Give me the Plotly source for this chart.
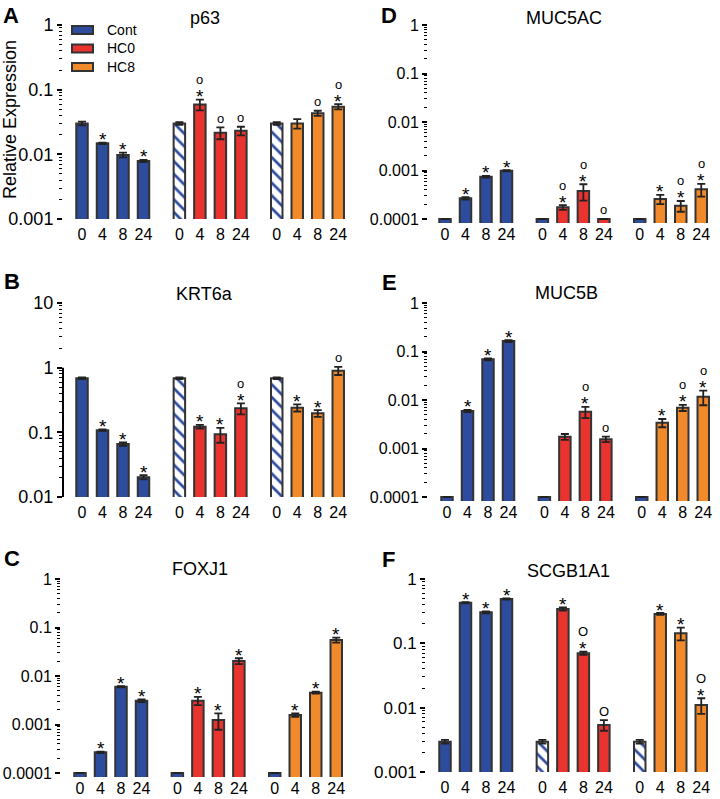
import math
import plotly.graph_objects as go

# ---------------- data ----------------
TIMES = ["0", "4", "8", "24"]
GROUPS = ["Cont", "HC0", "HC8"]
GENES = ["p63", "KRT6a", "FOXJ1", "MUC5AC", "MUC5B", "SCGB1A1"]
LETTERS = ["A", "B", "C", "D", "E", "F"]
ND = 1e-4  # below detection: drawn as a stub under the axis

# p63
p63_cont = [0.030, 0.0148, 0.0098, 0.0079]
p63_hc0 = [0.030, 0.059, 0.0216, 0.0232]
p63_hc8 = [0.030, 0.030, 0.0432, 0.0546]
p63_cont_err = [0.002, 0.0004, 0.0008, 0.0003]
p63_hc0_err = [0.0015, 0.011, 0.0045, 0.0035]
p63_hc8_err = [0.0015, 0.005, 0.004, 0.005]
p63_sig = [["", "*", "*", "*"], ["", "o*", "o", "o"], ["", "", "o", "o*"]]

# KRT6a
krt_cont = [0.684, 0.108, 0.066, 0.0202]
krt_hc0 = [0.684, 0.122, 0.093, 0.235]
krt_hc8 = [0.684, 0.24, 0.197, 0.90]
krt_cont_err = [0.02, 0.003, 0.004, 0.0015]
krt_hc0_err = [0.02, 0.008, 0.024, 0.045]
krt_hc8_err = [0.02, 0.03, 0.024, 0.13]
krt_sig = [["", "*", "*", "*"], ["", "*", "*", "o*"], ["", "*", "*", "o"]]

# FOXJ1
fox_cont = [ND, 0.000267, 0.0060, 0.0031]
fox_hc0 = [ND, 0.0031, 0.00124, 0.0204]
fox_hc8 = [ND, 0.00157, 0.00453, 0.0552]
fox_cont_err = [0, 0.00001, 0.0002, 0.0002]
fox_hc0_err = [0, 0.0006, 0.00046, 0.0028]
fox_hc8_err = [0, 0.00013, 0.0002, 0.0065]
fox_sig = [["", "*", "*", "*"], ["", "*", "*", "*"], ["", "*", "*", "*"]]

# MUC5AC
m5ac_cont = [ND, 0.000267, 0.000745, 0.00099]
m5ac_hc0 = [ND, 0.000174, 0.00038, ND]
m5ac_hc8 = [ND, 0.000258, 0.000188, 0.00041]
m5ac_cont_err = [0, 0.000015, 0.00003, 0.00003]
m5ac_hc0_err = [0, 0.00002, 0.00014, 0]
m5ac_hc8_err = [0, 0.000055, 0.000047, 0.00012]
m5ac_sig = [["", "*", "*", "*"], ["", "o*", "o*", "o"], ["", "*", "o*", "o*"]]

# MUC5B
m5b_cont = [ND, 0.00593, 0.069, 0.164]
m5b_hc0 = [ND, 0.00175, 0.00574, 0.00155]
m5b_hc8 = [ND, 0.0034, 0.00693, 0.0117]
m5b_cont_err = [0, 0.0003, 0.003, 0.008]
m5b_hc0_err = [0, 0.00024, 0.0015, 0.0002]
m5b_hc8_err = [0, 0.00066, 0.001, 0.0039]
m5b_sig = [["", "*", "*", "*"], ["", "", "o*", "o"], ["", "*", "o*", "o*"]]

# SCGB1A1
scgb_cont = [0.00296, 0.428, 0.303, 0.489]
scgb_hc0 = [0.00296, 0.342, 0.070, 0.00538]
scgb_hc8 = [0.00296, 0.286, 0.143, 0.0110]
scgb_cont_err = [0.0002, 0.01, 0.01, 0.01]
scgb_hc0_err = [0.0002, 0.02, 0.004, 0.001]
scgb_hc8_err = [0.0002, 0.01, 0.032, 0.003]
scgb_sig = [["", "*", "*", "*"], ["", "*", "o*", "o"], ["", "*", "*", "o*"]]

# axis limits (tick values)
Y_MIN = [1e-3, 1e-2, 1e-4, 1e-4, 1e-4, 1e-3]
Y_MAX = [1, 10, 1, 1, 1, 1]

VALUES = [
    [p63_cont, p63_hc0, p63_hc8],
    [krt_cont, krt_hc0, krt_hc8],
    [fox_cont, fox_hc0, fox_hc8],
    [m5ac_cont, m5ac_hc0, m5ac_hc8],
    [m5b_cont, m5b_hc0, m5b_hc8],
    [scgb_cont, scgb_hc0, scgb_hc8],
]
ERRORS = [
    [p63_cont_err, p63_hc0_err, p63_hc8_err],
    [krt_cont_err, krt_hc0_err, krt_hc8_err],
    [fox_cont_err, fox_hc0_err, fox_hc8_err],
    [m5ac_cont_err, m5ac_hc0_err, m5ac_hc8_err],
    [m5b_cont_err, m5b_hc0_err, m5b_hc8_err],
    [scgb_cont_err, scgb_hc0_err, scgb_hc8_err],
]
SIGS = [p63_sig, krt_sig, fox_sig, m5ac_sig, m5b_sig, scgb_sig]

# ---------------- styles / layout ----------------
W, H = 720, 799
BLUE = "#2E4C9E"
RED = "#E8332F"
ORANGE = "#F08A2B"
EDGE = "#333333"
GROUP_COLORS = [BLUE, RED, ORANGE]
FONT = "Liberation Sans, Arial, sans-serif"
GROUP_STEP = 4.75
PX_PER_UNIT = 20.5
STUB_PX = 4

# panel pixel boxes: left, right, top, bottom, first-bar centre
BOXES = [
    (63, 347, 25, 219, 82),
    (63, 347, 303, 497, 82),
    (61, 354, 579, 773, 80),
    (428, 718, 25, 219, 445),
    (428, 720, 303, 497, 447),
    (426, 720, 579, 772, 445),
]
YTICK_SIZE = [18, 18, 16, 16, 16, 17]
TITLE_POS = [(205, 18), (204, 294), (200, 569), (564, 18), (566, 293), (568, 571)]
LETTER_POS = [(11, 15), (12, 281), (12, 558), (389, 15), (389, 282), (388, 559)]

fig = go.Figure()
shapes = []
annotations = []

for p in range(6):
    L, R, T, B, first = BOXES[p]
    ax = "" if p == 0 else str(p + 1)
    xref, yref = "x" + ax, "y" + ax
    ymin, ymax = Y_MIN[p], Y_MAX[p]
    has_stub = any(v <= ymin for grp in VALUES[p] for v in grp)
    decades = math.log10(ymax) - math.log10(ymin)
    px_dec = (B - T) / decades
    ext = STUB_PX / px_dec if has_stub else 0.0
    Bp = B + (STUB_PX if has_stub else 0)

    xs_all = []
    for g in range(3):
        xs = [g * GROUP_STEP + i for i in range(4)]
        xs_all += xs
        vals = VALUES[p][g]
        errs = ERRORS[p][g]
        if g == 0:
            colors = [BLUE] * 4
            pats = [""] * 4
        else:
            colors = [BLUE] + [GROUP_COLORS[g]] * 3
            pats = ["\\", "", "", ""]
        # below-detection stubs: plain dark fill, no hatch
        pats = ["" if vals[i] <= ymin else pats[i] for i in range(4)]
        fig.add_trace(go.Bar(
            x=xs, y=vals, width=0.56,
            marker=dict(color=colors, line=dict(color=EDGE, width=2),
                        pattern=dict(shape=pats, fgcolor="white", size=9, solidity=0.3)),
            error_y=dict(type="data", array=[e if e > 0 else None for e in errs],
                         color="#222222", thickness=1.8, width=4, visible=True),
            xaxis=xref, yaxis=yref, showlegend=False, name=GROUPS[g],
        ))
        # significance marks
        for i in range(4):
            s = SIGS[p][g][i]
            if not s:
                continue
            top = vals[i] + errs[i]
            if vals[i] <= ymin:
                top = ymin
            stack = []
            if "*" in s:
                stack.append("*")
            if "o" in s:
                stack.append("O" if p == 5 else "o")
            for k, sym in enumerate(stack):
                annotations.append(dict(
                    x=xs[i], y=math.log10(top), xref=xref, yref=yref,
                    text=sym, showarrow=False,
                    yshift=(3 if sym == "*" else 9) + 11 * k,
                    yanchor="middle", xanchor="center",
                    font=dict(family=FONT, size=19 if sym == "*" else 13, color="black"),
                ))

    xlo = (L - first) / PX_PER_UNIT
    xhi = (R - first) / PX_PER_UNIT
    majors = [10 ** e for e in range(int(round(math.log10(ymin))), int(round(math.log10(ymax))) + 1)]
    minors = [m * v for v in majors[:-1] for m in range(2, 10)]

    fig.update_layout(**{
        ("xaxis" + ax): dict(
            domain=[L / W, R / W], range=[xlo, xhi], anchor=yref,
            tickvals=xs_all, ticktext=TIMES * 3, ticks="", showline=False,
            showgrid=False, zeroline=False, automargin=False,
            ticklabelstandoff=(0 if has_stub else 4),
            tickfont=dict(family=FONT, size=16, color="black"),
        ),
        ("yaxis" + ax): dict(
            domain=[1 - Bp / H, 1 - T / H], type="log",
            range=[math.log10(ymin) - ext, math.log10(ymax)], anchor=xref,
            tickvals=majors, ticktext=[f"{v:g}" for v in majors],
            ticks="outside", ticklen=5, tickwidth=1.5, tickcolor="black",
            minor=dict(tickvals=minors, ticks="outside", ticklen=3, tickwidth=1, tickcolor="black"),
            showline=False, showgrid=False, zeroline=False, automargin=False,
            tickfont=dict(family=FONT, size=YTICK_SIZE[p], color="black"),
        ),
    })
    # axis lines
    shapes.append(dict(type="line", xref=xref + " domain", yref=yref,
                       x0=0, x1=1, y0=math.log10(ymin), y1=math.log10(ymin),
                       line=dict(color="black", width=2), layer="above"))
    shapes.append(dict(type="line", xref=xref + " domain", yref=yref,
                       x0=0, x1=0, y0=math.log10(ymin), y1=math.log10(ymax),
                       line=dict(color="black", width=2), layer="above"))

    tx, ty = TITLE_POS[p]
    annotations.append(dict(x=tx / W, y=1 - ty / H, xref="paper", yref="paper",
                            text=GENES[p], showarrow=False, xanchor="center", yanchor="middle",
                            font=dict(family=FONT, size=18, color="black")))
    lx, ly = LETTER_POS[p]
    annotations.append(dict(x=lx / W, y=1 - ly / H, xref="paper", yref="paper",
                            text="<b>" + LETTERS[p] + "</b>", showarrow=False,
                            xanchor="center", yanchor="middle",
                            font=dict(family=FONT, size=22, color="black")))

# y axis title (panel A)
annotations.append(dict(x=10 / W, y=1 - 120 / H, xref="paper", yref="paper",
                        text="Relative Expression", textangle=-90, showarrow=False,
                        xanchor="center", yanchor="middle",
                        font=dict(family=FONT, size=18, color="black")))

# legend (panel A)
for g in range(3):
    yc = 30 + 18.5 * g
    shapes.append(dict(type="rect", xref="paper", yref="paper",
                       x0=72 / W, x1=93 / W, y0=1 - (yc + 4) / H, y1=1 - (yc - 4) / H,
                       fillcolor=GROUP_COLORS[g], line=dict(color=EDGE, width=2)))
    annotations.append(dict(x=105 / W, y=1 - yc / H, xref="paper", yref="paper",
                            text=GROUPS[g], showarrow=False, xanchor="left", yanchor="middle",
                            font=dict(family=FONT, size=14, color="black")))

fig.update_layout(
    template="none",
    width=W, height=H, margin=dict(l=0, r=0, t=0, b=0, autoexpand=False),
    paper_bgcolor="white", plot_bgcolor="white",
    barmode="overlay", showlegend=False,
    shapes=shapes, annotations=annotations,
)

fig.write_html("out.html", config={"displayModeBar": False},
               post_script="document.body.style.margin='0';document.body.style.overflow='hidden';")
